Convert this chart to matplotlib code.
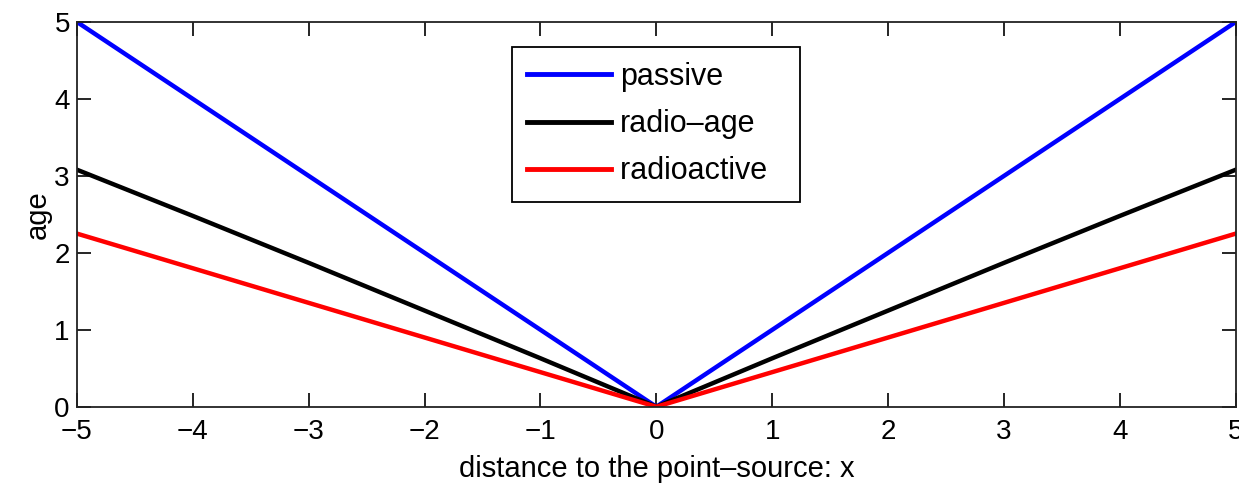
import numpy as np
import matplotlib
matplotlib.use('Agg')
import matplotlib.pyplot as plt

plt.rcParams['font.family'] = ['Liberation Sans', 'DejaVu Sans']

# distance to the point-source
x = [-5, -4, -3, -2, -1, 0, 1, 2, 3, 4, 5]
passive = [5.0, 4.0, 3.0, 2.0, 1.0, 0.0, 1.0, 2.0, 3.0, 4.0, 5.0]
radio_age = [3.08, 2.48, 1.87, 1.25, 0.63, 0.0, 0.63, 1.25, 1.87, 2.48, 3.08]
radioactive = [2.25, 1.80, 1.35, 0.90, 0.45, 0.0, 0.45, 0.90, 1.35, 1.80, 2.25]

fig = plt.figure(figsize=(12.39, 4.86), dpi=100)
ax = fig.add_axes([0.062, 0.163, 0.9355, 0.792])

ax.plot(x, passive, color='#0000ff', lw=3.2, label='passive')
ax.plot(x, radio_age, color='black', lw=3.2, label='radio\u2013age')
ax.plot(x, radioactive, color='#ff0000', lw=3.2, label='radioactive  ')

ax.set_xlim(-5, 5)
ax.set_ylim(0, 5)
ax.set_xticks(range(-5, 6))
ax.set_yticks(range(0, 6))
ax.set_xticklabels([str(i).replace('-', '\u2212') for i in range(-5, 6)])
ax.tick_params(direction='in', top=True, right=True, length=10, width=1.2,
               labelsize=20)
ax.tick_params(axis='x', pad=9)
ax.tick_params(axis='y', pad=5)
for s in ax.spines.values():
    s.set_linewidth(1.3)
    s.set_color('#222222')

ax.set_xlabel('distance to the point\u2013source: x', fontsize=21, labelpad=7)
ax.set_ylabel('age', fontsize=21, labelpad=2)

leg = ax.legend(loc='upper left', bbox_to_anchor=(0.3753, 0.935), fontsize=22,
                fancybox=False, framealpha=1, edgecolor='black', handlelength=2.75,
                handletextpad=0.3, borderpad=0.5, labelspacing=0.56,
                borderaxespad=0)
leg.get_frame().set_linewidth(1.3)
for h in leg.get_lines():
    h.set_linewidth(3.5)

fig.savefig('out.png', dpi=100)
